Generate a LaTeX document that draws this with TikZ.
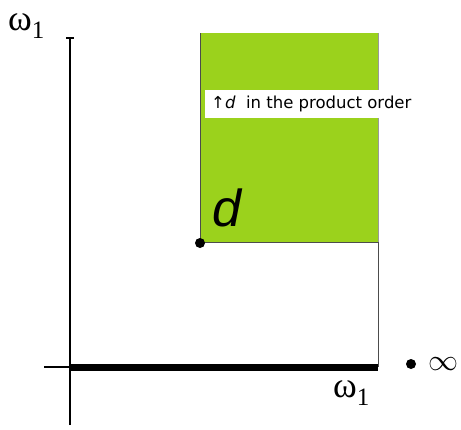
\documentclass[tikz,border=0pt]{standalone}
\usepackage{fontspec}
\setsansfont{DejaVu Sans}
\newfontfamily\lsans{Liberation Sans}
\newfontfamily\lserif{Liberation Serif}
\definecolor{lime}{HTML}{9BD21C}
\newcommand{\omone}{{\lserif\fontsize{36}{36}\selectfont ω\raisebox{-0.22em}{\fontsize{25}{25}\selectfont 1}}}
\begin{document}
\begin{tikzpicture}[x=1pt,y=-1pt,
  axis/.style={line width=1.2pt},
  omlab/.style={inner sep=0pt},
  dotmark/.style={circle,fill=black,inner sep=0pt,minimum size=10pt}]
\useasboundingbox (0,0) rectangle (461,429);
\fill[lime] (200,33) rectangle (378,242);
\draw[line width=0.8pt, black!70] (200,33) -- (200,242) -- (378,242) -- (378,367);
\draw[line width=0.8pt, black!40] (378,33) -- (378,242);
\draw[axis] (70,425) -- (70,37) coordinate (top);
\draw[axis] (66,38) -- (74,38);
\draw[axis] (44,367) -- (378,367);
\fill (70,364) rectangle (378,371);
\node[dotmark] (d) at (200,243) {};
\node[inner sep=0pt, font=\lsans\itshape\fontsize{52}{52}\selectfont] (dl) at (227,208) {d};
\node[fill=white, inner xsep=6pt, inner ysep=0pt, minimum height=28pt, anchor=west, font=\sffamily\fontsize{16.5}{16.5}\selectfont] (lab) at (205,104) {↑\textit{d}\ \ in the product order};
\node[omlab, anchor=west] (wtop) at (8,26) {\omone};
\node[omlab, anchor=west] (wbot) at (333,393) {\omone};
\node[dotmark] (inf) at (411,364) {};
\node[inner sep=0pt] (infl) at (443,364) {\scalebox{3}{$\infty$}};
\end{tikzpicture}
\end{document}
